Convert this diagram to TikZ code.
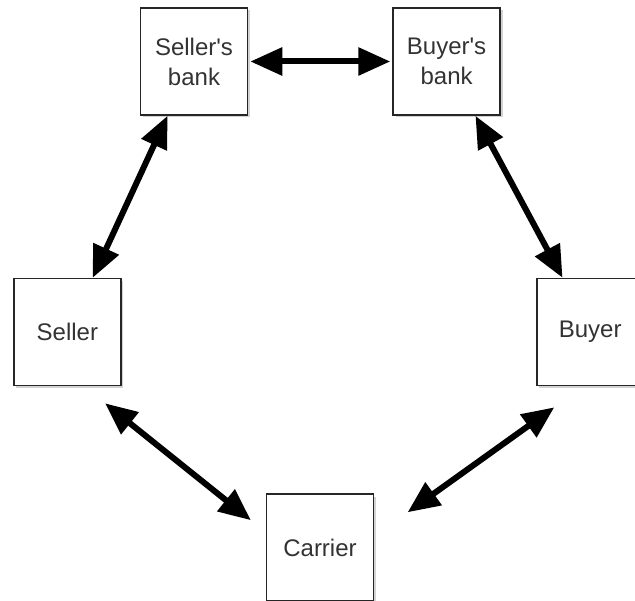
\documentclass[tikz,border=0pt]{standalone}
\usepackage{fontspec}
\setmainfont{Liberation Sans}
\usetikzlibrary{arrows.meta,positioning,shadows}

\begin{document}
\begin{tikzpicture}[>={Triangle[length=32pt,width=27pt]}]
        \tikzset{party/.style= {draw=black!85, fill=white, rectangle, line width=1.6pt, align=center,
                minimum width=107pt, minimum height=107pt, text=black!80,
                font=\fontsize{24}{30}\selectfont,
                drop shadow={shadow xshift=2.5pt, shadow yshift=-2.5pt, opacity=0.35}},
        link/.style={draw, line width=6pt, <->},
        }
        \useasboundingbox (0,0) rectangle (635pt,-601pt);
        \node [party] at (194pt,-61.5pt) (sbank) {Seller\textquotesingle s\\bank};
        \node [party, right=144pt of sbank] (bbank) {Buyer\textquotesingle s\\bank};
        \node [party, below left=162pt and 18pt of sbank] (seller) {Seller};
        \node [party, below right=162pt and 35pt of bbank] (buyer) {Buyer};
        \node [party, below right=107pt and 144pt of seller] (carrier) {Carrier};
%%% paths
        \path (sbank.east) edge[link, shorten <=2pt, shorten >=2pt] (bbank.west)
              (sbank.244) edge[link] (seller.65)
              (bbank.298) edge[link] (buyer.117)
              (seller.-73) edge[link, shorten <=27pt, shorten >=19pt] (carrier.164)
              (buyer.263) edge[link, shorten <=36pt, shorten >=41pt] (carrier.12)
              ;
    \end{tikzpicture}
\end{document}
